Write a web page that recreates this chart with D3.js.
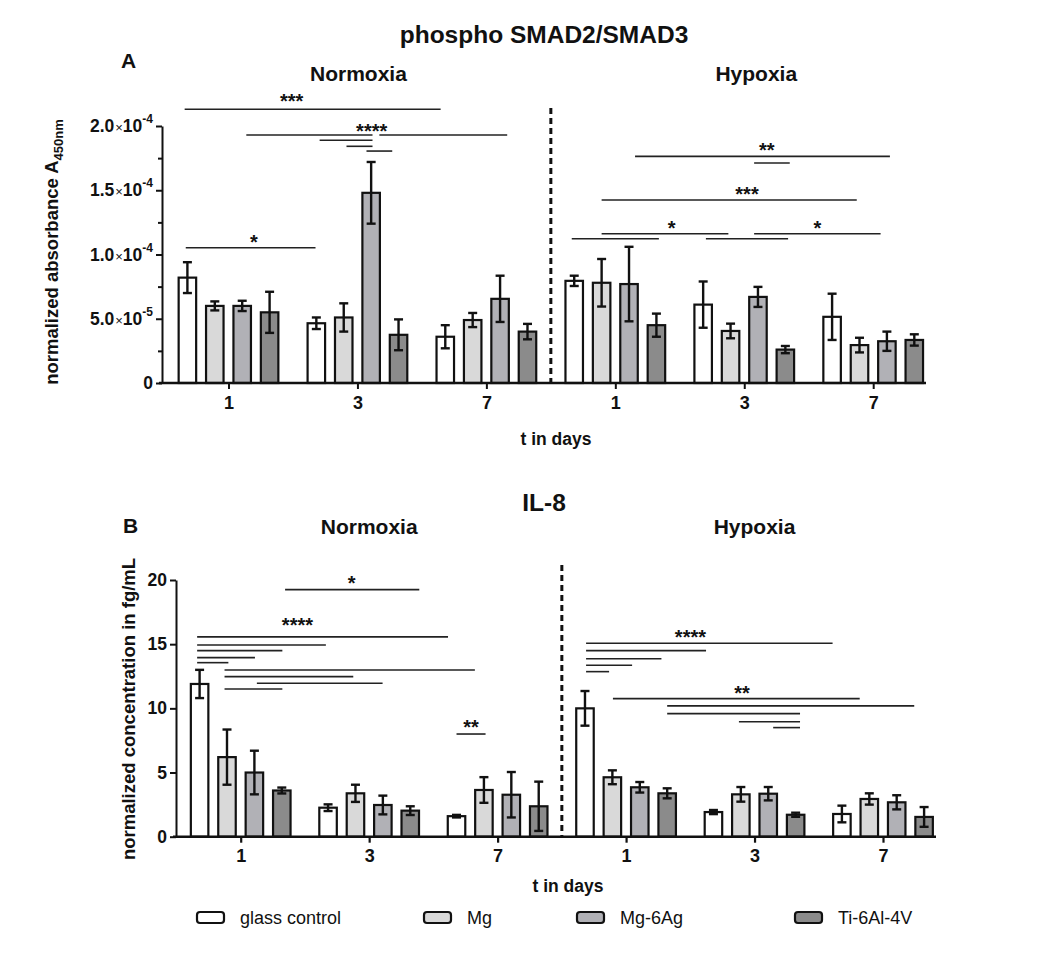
<!DOCTYPE html>
<html><head><meta charset="utf-8">
<script src="https://cdn.jsdelivr.net/npm/d3@7"></script>
<style>
body{margin:0;background:#fff}
svg{display:block}
text{font-family:"Liberation Sans",Arial,Helvetica,sans-serif;fill:#111}
</style>
</head><body>
<svg id="chart" width="1053" height="964"></svg>
<script>
// ---------------- data ----------------
const groups = ["N1","N3","N7","H1","H3","H7"];
const dayLabels = ["1","3","7","1","3","7"];
const conditions = ["Normoxia","Hypoxia"];
const seriesNames = ["glass control","Mg","Mg-6Ag","Ti-6Al-4V"];
const seriesColors = ["#ffffff","#d9d9d9","#b1b1b6","#8b8b8b"];

// Panel A: phospho SMAD2/SMAD3 (normalized absorbance), per series over groups N1,N3,N7,H1,H3,H7
const smadGlass = [8.2e-5, 4.65e-5, 3.6e-5, 7.95e-5, 6.1e-5, 5.15e-5];
const smadMg    = [6.0e-5, 5.1e-5, 4.9e-5, 7.8e-5, 4.05e-5, 2.95e-5];
const smadMgAg  = [6.0e-5, 14.8e-5, 6.55e-5, 7.7e-5, 6.7e-5, 3.25e-5];
const smadTi    = [5.5e-5, 3.75e-5, 4.0e-5, 4.5e-5, 2.6e-5, 3.35e-5];
const smadGlassErr = [1.2e-5, 0.45e-5, 0.9e-5, 0.4e-5, 1.8e-5, 1.8e-5];
const smadMgErr    = [0.35e-5, 1.1e-5, 0.55e-5, 1.85e-5, 0.57e-5, 0.57e-5];
const smadMgAgErr  = [0.4e-5, 2.4e-5, 1.8e-5, 2.9e-5, 0.78e-5, 0.75e-5];
const smadTiErr    = [1.6e-5, 1.2e-5, 0.6e-5, 0.9e-5, 0.28e-5, 0.44e-5];
const smadTicks = [0, 5e-5, 1e-4, 1.5e-4, 2e-4];
const smadMinorTicks = [2.5e-5, 7.5e-5, 1.25e-4, 1.75e-4];

// Panel B: IL-8 (normalized concentration in fg/mL)
const il8Glass = [11.9, 2.26, 1.6, 10.0, 1.92, 1.77];
const il8Mg    = [6.2, 3.38, 3.64, 4.63, 3.3, 2.94];
const il8MgAg  = [5.0, 2.47, 3.27, 3.85, 3.35, 2.68];
const il8Ti    = [3.6, 2.03, 2.37, 3.38, 1.71, 1.54];
const il8GlassErr = [1.1, 0.26, 0.1, 1.35, 0.16, 0.65];
const il8MgErr    = [2.15, 0.67, 1.0, 0.54, 0.57, 0.44];
const il8MgAgErr  = [1.7, 0.73, 1.77, 0.41, 0.52, 0.55];
const il8TiErr    = [0.23, 0.34, 1.92, 0.39, 0.16, 0.77];
const il8Ticks = [0, 5, 10, 15, 20];

// significance brackets: [fromGroup, fromBar, toGroup, toBar, yValue]
const smadSig = [
  [0,-0.1,2,-0.17,21.3e-5],
  [0,2.15,1,2.05,19.3e-5],
  [1,2.3,2,2.26,19.3e-5],
  [1,0.12,1,2.05,18.89e-5],
  [1,1.1,1,2.05,18.42e-5],
  [1,1.83,1,2.77,18.05e-5],
  [0,-0.06,1,-0.03,10.53e-5],
  [3,2.22,5,2.11,17.64e-5],
  [4,1.86,4,3.16,17.12e-5],
  [3,1.0,5,0.9,14.24e-5],
  [3,1.0,4,0.92,11.62e-5],
  [3,-0.09,3,3.09,11.23e-5],
  [4,0.1,4,3.1,11.23e-5],
  [4,1.86,5,1.77,11.62e-5]
];
// significance labels: [text, group, bar, yValue]
const smadStars = [
  ["***",1,-0.9,22.26e-5],
  ["****",1,2.02,19.95e-5],
  ["*",0,2.43,11.28e-5],
  ["**",4,2.32,18.44e-5],
  ["***",4,1.6,15.02e-5],
  ["*",3,3.56,12.37e-5],
  ["*",5,-0.54,12.37e-5]
];
const il8Sig = [
  [0,3.12,1,3.33,19.25],
  [0,-0.09,2,-0.31,15.57],
  [0,-0.09,1,-0.08,14.94],
  [0,-0.09,0,3.02,14.5],
  [0,-0.09,0,2.02,13.95],
  [0,-0.09,0,1.05,13.56],
  [0,0.91,2,0.67,12.99],
  [0,0.91,1,0.92,12.47],
  [0,2.09,1,1.99,11.96],
  [0,0.91,0,3.02,11.51],
  [2,0.0,2,1.06,8.0],
  [3,0.04,5,-0.34,15.07],
  [3,0.04,4,-0.27,14.5],
  [3,0.04,3,2.79,13.87],
  [3,0.04,3,1.72,13.36],
  [3,0.04,3,0.88,12.86],
  [3,1.02,5,0.65,10.76],
  [3,3.0,5,2.64,10.19],
  [3,3.0,4,3.16,9.59],
  [4,0.93,4,3.16,8.96],
  [4,2.18,4,3.16,8.5]
];
const il8Stars = [
  ["*",1,0.86,20.06],
  ["****",0,3.57,16.84],
  ["**",2,0.53,8.89],
  ["****",4,-0.84,15.9],
  ["**",4,1.04,11.49]
];

// ---------------- drawing ----------------
const svg = d3.select("#chart");
svg.append("rect").attr("width",1053).attr("height",964).attr("fill","#fff");

const BAR_STEP = 27.4, BAR_W = 17.5;

function drawPanel(o){
  const g = svg.append("g");
  const x = d3.scalePoint().domain(groups).range(o.xRange);
  const y = d3.scaleLinear().domain(o.yDomain).range(o.yRange);
  const bx = (gi, b) => x(groups[gi]) + (b - 1.5) * BAR_STEP;

  // bars
  o.means.forEach((arr, si) => {
    g.append("g").selectAll("rect").data(arr).join("rect")
      .attr("x", (d,i) => bx(i, si) - BAR_W/2)
      .attr("width", BAR_W)
      .attr("y", d => y(d))
      .attr("height", d => y(0) - y(d))
      .attr("fill", seriesColors[si])
      .attr("stroke", "#111").attr("stroke-width", 2.2);
  });
  // error bars
  o.means.forEach((arr, si) => {
    const eg = g.append("g").attr("stroke","#111").attr("stroke-width",2.4);
    arr.forEach((m, i) => {
      const e = o.errs[si][i], cx = bx(i, si);
      eg.append("line").attr("x1",cx).attr("x2",cx).attr("y1",y(m-e)).attr("y2",y(m+e));
      eg.append("line").attr("x1",cx-4.5).attr("x2",cx+4.5).attr("y1",y(m-e)).attr("y2",y(m-e));
      eg.append("line").attr("x1",cx-4.5).attr("x2",cx+4.5).attr("y1",y(m+e)).attr("y2",y(m+e));
    });
  });

  // y axis
  const yAxis = d3.axisLeft(y).tickValues(o.ticks).tickSize(6).tickSizeOuter(0).tickPadding(3);
  if (o.tickFmt) yAxis.tickFormat(() => "");
  const gy = g.append("g").attr("transform",`translate(${o.axisX},0)`).call(yAxis);
  if (o.minorTicks){
    g.append("g").attr("transform",`translate(${o.axisX},0)`)
      .call(d3.axisLeft(y).tickValues(o.minorTicks).tickSize(4).tickSizeOuter(0).tickFormat(() => ""))
      .select(".domain").remove();
  }
  gy.selectAll(".tick text").attr("font-size",17.5).attr("font-weight","bold").attr("fill","#111");
  if (o.tickFmt){
    gy.selectAll(".tick text").each(function(d){
      const t = d3.select(this);
      if (d === 0){ t.text("0"); return; }
      const parts = d.toExponential(1).split("e");
      t.append("tspan").text(parts[0]);
      t.append("tspan").attr("font-size",13).attr("font-weight","normal").attr("dx",1).text("×");
      t.append("tspan").text("10");
      t.append("tspan").attr("font-size",12).attr("dy","-0.75em").text(String(+parts[1]));
    });
  }
  svg.selectAll(".domain, .tick line").attr("stroke","#111").attr("stroke-width",2);

  // x axis line
  g.append("line").attr("x1",o.axisX-3).attr("x2",o.xEnd).attr("y1",y(0)).attr("y2",y(0))
    .attr("stroke","#111").attr("stroke-width",2.4);
  const gx = g.append("g").attr("transform",`translate(0,${y(0)})`)
    .call(d3.axisBottom(x).tickSize(6).tickSizeOuter(0).tickPadding(o.xPad).tickFormat((d,i) => dayLabels[i]));
  gx.select(".domain").remove();
  gx.selectAll(".tick line").attr("stroke","#111").attr("stroke-width",2.2);
  gx.selectAll(".tick text").attr("font-size",18).attr("font-weight","bold").attr("fill","#111");

  // divider
  const xm = (x(groups[2]) + x(groups[3])) / 2;
  g.append("line").attr("x1",xm).attr("x2",xm).attr("y1",o.divTop).attr("y2",y(0))
    .attr("stroke","#111").attr("stroke-width",3).attr("stroke-dasharray","6,4");

  // significance
  g.append("g").selectAll("line").data(o.sig).join("line")
    .attr("x1", d => bx(d[0], d[1])).attr("x2", d => bx(d[2], d[3]))
    .attr("y1", d => y(d[4])).attr("y2", d => y(d[4]))
    .attr("stroke","#222").attr("stroke-width",1.6);
  g.append("g").selectAll("text").data(o.stars).join("text")
    .attr("x", d => bx(d[1], d[2])).attr("y", d => y(d[3]) + 11)
    .attr("text-anchor","middle").attr("font-size",20).attr("font-weight","bold")
    .text(d => d[0]);

  // titles
  g.append("text").attr("x",544).attr("y",o.titleY).attr("text-anchor","middle")
    .attr("font-size",24.5).attr("font-weight","bold").text(o.title);
  g.append("text").attr("x",o.letterX).attr("y",o.letterY).attr("font-size",21).attr("font-weight","bold").text(o.letter);
  g.append("text").attr("x",x(groups[1])+o.condDx[0]).attr("y",o.condY).attr("text-anchor","middle")
    .attr("font-size",21).attr("font-weight","bold").text(conditions[0]);
  g.append("text").attr("x",x(groups[4])+o.condDx[1]).attr("y",o.condY).attr("text-anchor","middle")
    .attr("font-size",21).attr("font-weight","bold").text(conditions[1]);
  g.append("text").attr("x",o.xTitleX).attr("y",o.xTitleY).attr("text-anchor","middle")
    .attr("font-size",17.5).attr("font-weight","bold").text("t in days");
  const yt = g.append("text").attr("transform",`translate(${o.yTitleX},${o.yTitleY}) rotate(-90)`)
    .attr("text-anchor","middle").attr("font-size",18.5).attr("font-weight","bold");
  yt.append("tspan").text(o.yTitle);
  if (o.yTitleSub) yt.append("tspan").attr("font-size",13).attr("dy","0.35em").text(o.yTitleSub);
}

drawPanel({
  xRange:[228.5, 873.2], yDomain:[0, 2e-4], yRange:[383, 126],
  means:[smadGlass, smadMg, smadMgAg, smadTi],
  errs:[smadGlassErr, smadMgErr, smadMgAgErr, smadTiErr],
  ticks: smadTicks, minorTicks: smadMinorTicks, tickFmt: true,
  axisX: 162, xEnd: 926, xPad: 7, divTop: 108,
  sig: smadSig, stars: smadStars,
  title: "phospho SMAD2/SMAD3", titleY: 43,
  letter: "A", letterX: 121, letterY: 68, condY: 81, condDx: [1, 12],
  xTitleX: 556, xTitleY: 445,
  yTitleX: 58, yTitleY: 252, yTitle: "normalized absorbance A", yTitleSub: "450nm"
});

drawPanel({
  xRange:[240.7, 883], yDomain:[0, 20], yRange:[836.7, 580],
  means:[il8Glass, il8Mg, il8MgAg, il8Ti],
  errs:[il8GlassErr, il8MgErr, il8MgAgErr, il8TiErr],
  ticks: il8Ticks, minorTicks: null, tickFmt: false,
  axisX: 176, xEnd: 936, xPad: 7, divTop: 565,
  sig: il8Sig, stars: il8Stars,
  title: "IL-8", titleY: 511,
  letter: "B", letterX: 123, letterY: 533, condY: 534, condDx: [0, 0],
  xTitleX: 568, xTitleY: 892,
  yTitleX: 135, yTitleY: 709, yTitle: "normalized concentration in fg/mL", yTitleSub: null
});

// legend
const legendX = [197, 424, 577, 795];
const lg = svg.append("g");
seriesNames.forEach((n, i) => {
  lg.append("rect").attr("x", legendX[i]).attr("y", 912).attr("width", 27).attr("height", 11)
    .attr("rx", 3).attr("fill", seriesColors[i]).attr("stroke", "#111").attr("stroke-width", 2.2);
  lg.append("text").attr("x", legendX[i] + 43).attr("y", 924).attr("font-size", 18).text(n);
});
</script>
</body></html>
